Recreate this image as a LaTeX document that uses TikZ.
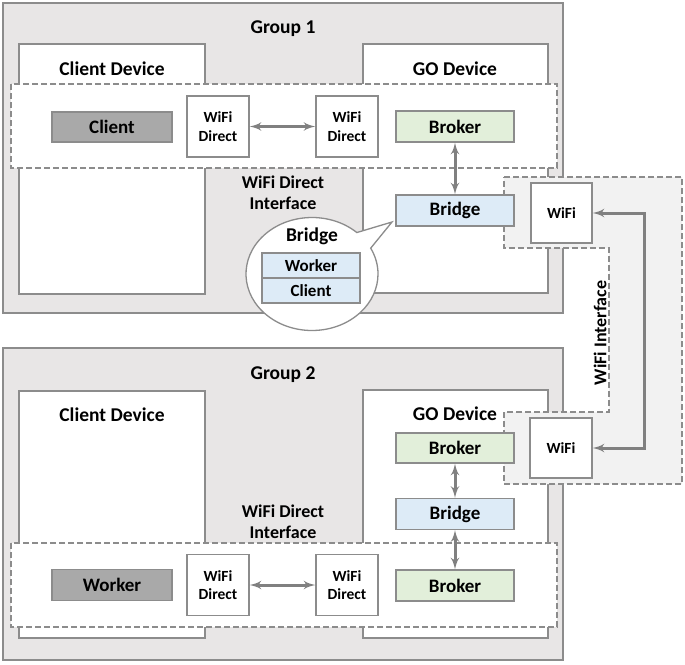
\documentclass[tikz,border=0pt]{standalone}
\usepackage{fontspec}
\setmainfont{Carlito}
\usetikzlibrary{arrows}
\usetikzlibrary{shapes.callouts}
\definecolor{grpgray}{HTML}{E8E6E6}
\definecolor{linegray}{HTML}{8C8C8C}
\definecolor{wifigray}{HTML}{F2F2F2}
\definecolor{brokergreen}{HTML}{E2EFDA}
\definecolor{bridgeblue}{HTML}{DDEBF7}
\definecolor{roledark}{HTML}{A9A9A9}
\definecolor{arrowgray}{HTML}{808080}
\begin{document}
\begin{tikzpicture} [x=1pt, y=-1pt,
 grp/.style={draw=linegray, line width=1.7pt, fill=grpgray},
 dev/.style={draw=linegray, line width=1.5pt, fill=white},
 iface/.style={draw=linegray, line width=1.3pt, dash pattern=on 6pt off 3pt},
 blk/.style={draw=linegray, line width=1.3pt, minimum width=118pt, minimum height=31pt, inner sep=0pt, font=\fontsize{19}{21}\selectfont\bfseries},
 port/.style={draw=linegray, line width=1.3pt, fill=white, minimum width=62pt, minimum height=61pt, inner sep=0pt, align=center, font=\fontsize{15.5}{18.5}\selectfont\bfseries},
 lbl/.style={inner sep=0pt, align=center, font=\fontsize{19.5}{21}\selectfont\bfseries},
 link/.style={draw=arrowgray, line width=3pt, <->, >=latex'}]
\useasboundingbox (0,0) rectangle (685,664);
% groups and devices
\draw[grp] (3,3) rectangle (563,313);
\draw[grp] (3,348) rectangle (563,660);
\draw[dev] (19,44) rectangle (205,294);
\draw[dev] (363,44) rectangle (548,293);
\draw[dev] (19,391) rectangle (205,638);
\draw[dev] (363,390) rectangle (548,638);
\node[lbl] (g1) at (283,29) {Group 1};
\node[lbl] (g2) at (283,375) {Group 2};
\node[lbl] (cd1) at (112,69) {Client Device};
\node[lbl] (go1) at (455,69) {GO Device};
\node[lbl] (cd2) at (112,415) {Client Device};
\node[lbl] (go2) at (455,414) {GO Device};
% interfaces
\draw[iface, fill=white] (11,84) rectangle (557,168);
\draw[iface, fill=white] (11,543) rectangle (557,627);
\draw[iface, fill=wifigray] (504,177) -- (682,177) -- (682,484) -- (504,484) -- (504,412)
 -- (609,412) -- (609,248) -- (504,248) -- cycle;
\node[lbl, font=\fontsize{18}{21}\selectfont\bfseries] (wfd1) at (283,192.5) {WiFi Direct\\Interface};
\node[lbl, font=\fontsize{18}{21}\selectfont\bfseries] (wfd2) at (283,521.5) {WiFi Direct\\Interface};
\node[lbl, font=\fontsize{18}{21}\selectfont\bfseries, rotate=90] (wifiif) at (600,333) {WiFi Interface};
% group 1
\node[blk, fill=roledark, minimum width=120pt, minimum height=30pt] (client) at (112,127) {Client};
\node[port] (pa1) at (218,126.5) {WiFi\\Direct};
\node[port] (pb1) at (347,126.5) {WiFi\\Direct};
\node[blk, fill=brokergreen] (broker1) at (455,126.5) {Broker};
\node[blk, fill=bridgeblue] (bridge1) at (455,210.5) {Bridge};
\node[port, minimum width=61pt, minimum height=60pt] (wifi1) at (561.5,213) {WiFi};
% group 2
\node[blk, fill=roledark, minimum width=120pt] (worker) at (112,585) {Worker};
\node[port] (pa2) at (218,585) {WiFi\\Direct};
\node[port] (pb2) at (347,585) {WiFi\\Direct};
\node[blk, fill=brokergreen, minimum height=30pt] (broker2) at (455,448) {Broker};
\node[blk, fill=bridgeblue] (bridge2) at (455,514) {Bridge};
\node[blk, fill=brokergreen] (broker3) at (455,585.5) {Broker};
\node[port, minimum height=60pt] (wifi2) at (561,448) {WiFi};
% bubble
\coordinate (tip) at (392,222);
\node[ellipse callout, draw=linegray, line width=1.3pt, fill=white, minimum width=132pt, minimum height=113pt,
 callout absolute pointer=(tip), callout pointer arc=20] (bubble) at (312,274) {};
\node[lbl] (bb) at (312,236) {Bridge};
\node[blk, fill=bridgeblue, minimum width=98pt, minimum height=25pt, font=\fontsize{17}{19}\selectfont\bfseries] (bw) at (311,265.5) {Worker};
\node[blk, fill=bridgeblue, minimum width=98pt, minimum height=25pt, font=\fontsize{17}{19}\selectfont\bfseries] (bc) at (311,290.5) {Client};
% links
\draw[link] (pa1) -- (pb1);
\draw[link] (pa2) -- (pb2);
\draw[link] (broker1) -- (bridge1);
\draw[link] (broker2) -- (bridge2);
\draw[link] (bridge2) -- (broker3);
\draw[link] (wifi1.east) -- ++(52,0) |- (wifi2.east);
\end{tikzpicture}
\end{document}
